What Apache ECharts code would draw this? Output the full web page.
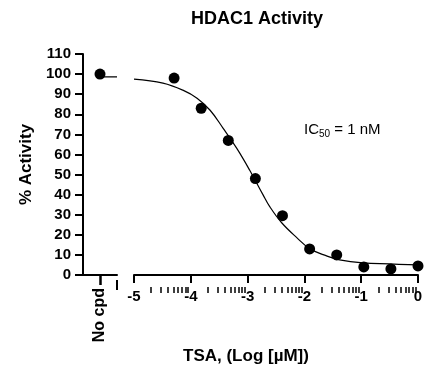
<!DOCTYPE html>
<html><head><meta charset="utf-8">
<script src="https://cdn.jsdelivr.net/npm/echarts@6/dist/echarts.min.js"></script>
<style>html,body{margin:0;padding:0;background:#fff}#c{width:439px;height:379px}</style>
</head><body><div id="c"></div>
<script>
// ---- data ----
const noCpdLabel = 'No cpd';
const noCpdPoint = [[1, 100]];
const noCpdFitLine = [[1, 98.6], [2, 98.6]];
const logDose = [-4.294, -3.817, -3.340, -2.863, -2.386, -1.908, -1.431, -0.954, -0.477, 0];
const activity = [98, 83, 67, 48, 29.5, 13, 10, 4, 3, 4.5];
const curveX = [-5, -4.49, -4.14, -3.89, -3.66, -3.43, -3.19, -2.96, -2.73, -2.61, -2.40, -2.13, -1.90, -1.61, -1.38, -0.97, -0.50, 0];
const curveY = [97.5, 95.5, 92, 88, 82, 73, 63, 52, 40, 34, 26, 18.5, 13, 9.5, 7.5, 6, 5.5, 5];
const yTicks = [0, 10, 20, 30, 40, 50, 60, 70, 80, 90, 100, 110];
const xDecades = [-5, -4, -3, -2, -1];
const minorMultipliers = [2, 3, 4, 5, 6, 7, 8, 9];

const minorTicks = [];
for (let i = 0; i < xDecades.length; i++) {
  for (let j = 0; j < minorMultipliers.length; j++) {
    minorTicks.push(xDecades[i] + Math.log(minorMultipliers[j]) / Math.LN10);
  }
}

const FONT = 'Liberation Sans, Arial, sans-serif';
const black = '#000';
const GL = 83, GLW = 34, GM = 134, GMR = 21, TOP = 54, H = 221;

const chart = echarts.init(document.getElementById('c'));
const axisLine = {show: true, onZero: false, lineStyle: {color: black, width: 2}};

chart.setOption({
  animation: false,
  title: [
    {text: 'HDAC1 Activity', left: 252, top: 5, textAlign: 'center',
     textStyle: {fontFamily: FONT, fontWeight: 'bold', fontSize: 18, color: black}},
    {text: '{a|IC}{s|50}{a| = 1 nM}', left: 304, top: 121, padding: 0,
     textStyle: {fontWeight: 'normal', rich: {a: {fontFamily: FONT, fontWeight: 'normal', fontSize: 15, color: black},
                        s: {fontFamily: FONT, fontWeight: 'normal', fontSize: 10, color: black, verticalAlign: 'bottom', padding: [8, 0, 0, 0]}}}}
  ],
  grid: [
    {left: GL, top: TOP, width: GLW, height: H},
    {left: GM, right: GMR, top: TOP, height: H},
    // thin helper strips just under the axis line, used only for the small tick marks
    {left: GM, right: GMR, top: TOP + H, height: 12},
    {left: GL, top: TOP + H - 5, width: GLW, height: 10},
    {left: GM, right: GMR, top: TOP + H - 5, height: 5}
  ],
  xAxis: [
    {gridIndex: 0, type: 'value', min: 0, max: 2, axisLine: axisLine, splitLine: {show: false},
     axisTick: {show: true, customValues: [1], length: 10, lineStyle: {color: black, width: 2.5}},
     axisLabel: {show: true, customValues: [1], formatter: () => noCpdLabel, rotate: 90, margin: 13,
                 fontFamily: FONT, fontWeight: 'bold', fontSize: 16, color: black}},
    {gridIndex: 1, type: 'value', min: -5, max: 0, interval: 1, axisLine: axisLine, splitLine: {show: false},
     axisTick: {show: true, length: 8, lineStyle: {color: black, width: 2}},
     axisLabel: {show: true, margin: 14, fontFamily: FONT, fontWeight: 'bold', fontSize: 15, color: black,
                 formatter: v => String(v)}},
    // minor (log) ticks: top axis of helper strip, ticks pointing down
    {gridIndex: 2, type: 'value', position: 'top', min: -5, max: 0, axisLine: {show: false}, splitLine: {show: false},
     axisLabel: {show: false},
     axisTick: {show: true, customValues: minorTicks, inside: true, length: 6, lineStyle: {color: black, width: 1.5}}},
    // end cap of the "No cpd" segment (crosses the axis)
    {gridIndex: 3, type: 'value', position: 'top', min: 0, max: 2, axisLine: {show: false}, splitLine: {show: false},
     axisLabel: {show: false},
     axisTick: {show: true, customValues: [2], inside: true, length: 10, lineStyle: {color: black, width: 2}}},
    // start cap of the main segment (above the axis)
    {gridIndex: 4, type: 'value', position: 'top', min: -5, max: 0, axisLine: {show: false}, splitLine: {show: false},
     axisLabel: {show: false},
     axisTick: {show: true, customValues: [-5], inside: true, length: 5, lineStyle: {color: black, width: 2}}}
  ],
  yAxis: [
    {gridIndex: 0, type: 'value', min: 0, max: 110, interval: 10, axisLine: axisLine, splitLine: {show: false},
     axisTick: {show: true, length: 8, lineStyle: {color: black, width: 2}},
     axisLabel: {show: true, margin: 12, fontFamily: FONT, fontWeight: 'bold', fontSize: 15, color: black,
                 customValues: yTicks},
     name: '% Activity', nameLocation: 'middle', nameGap: 48, nameRotate: 90,
     nameTextStyle: {fontFamily: FONT, fontWeight: 'bold', fontSize: 17, color: black}},
    {gridIndex: 1, type: 'value', min: 0, max: 110, show: false},
    {gridIndex: 2, type: 'value', min: 0, max: 1, show: false},
    {gridIndex: 3, type: 'value', min: 0, max: 1, show: false},
    {gridIndex: 4, type: 'value', min: 0, max: 1, show: false}
  ],
  graphic: [
    {type: 'text', left: 183, top: 348, style: {text: 'TSA, (Log [µM])', font: 'bold 17px ' + FONT, fill: black}}
  ],
  series: [
    {type: 'line', xAxisIndex: 0, yAxisIndex: 0, data: noCpdFitLine, symbol: 'none', lineStyle: {color: black, width: 1.2}},
    {type: 'scatter', xAxisIndex: 0, yAxisIndex: 0, data: noCpdPoint, symbolSize: 11, itemStyle: {color: black, opacity: 1}},
    {type: 'line', xAxisIndex: 1, yAxisIndex: 1, data: curveX.map((x, i) => [x, curveY[i]]), smooth: 0.4,
     symbol: 'none', lineStyle: {color: black, width: 1.2}},
    {type: 'scatter', xAxisIndex: 1, yAxisIndex: 1, data: logDose.map((x, i) => [x, activity[i]]),
     symbolSize: 11, itemStyle: {color: black, opacity: 1}}
  ]
});
</script></body></html>
